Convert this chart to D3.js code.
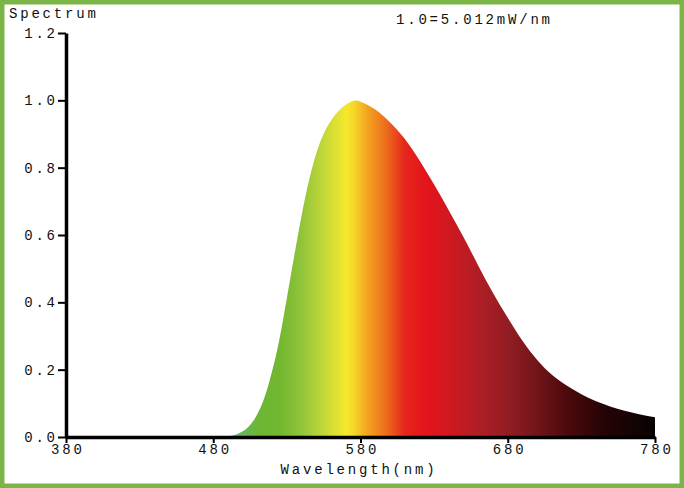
<!DOCTYPE html>
<html>
<head>
<meta charset="utf-8">
<script src="https://cdn.jsdelivr.net/npm/d3@7"></script>
<style>
  html, body { margin: 0; padding: 0; background: #fff; }
  svg text { font-family: "Liberation Mono", "DejaVu Sans Mono", monospace; font-size: 14px; fill: #111; }
</style>
</head>
<body>
<div id="chart"></div>
<script>
// relative spectrum
var wavelengths = [380, 400, 420, 440, 460, 480, 485, 490, 495, 500, 505, 510, 515, 520, 525,
                   530, 535, 540, 545, 550, 555, 560, 565, 570, 575, 580, 590,
                   600, 610, 620, 630, 640, 650, 660, 670, 680, 690, 700,
                   710, 720, 730, 740, 750, 760, 770, 780];
var intensity = [0, 0, 0, 0, 0, 0, 0, 0.002, 0.007, 0.017, 0.036, 0.068, 0.12, 0.196, 0.292,
                 0.413, 0.538, 0.658, 0.762, 0.843, 0.901, 0.94, 0.968, 0.987, 0.998, 0.996, 0.973,
                 0.935, 0.886, 0.822, 0.75, 0.673, 0.593, 0.509, 0.428, 0.354, 0.286, 0.229,
                 0.185, 0.153, 0.127, 0.106, 0.09, 0.077, 0.067, 0.059];

// colour of the fill along the wavelength axis
var stopWavelengths = [488, 500, 510, 525, 540, 555, 570, 575, 585, 598, 610, 625, 640, 660, 680, 700, 720, 745, 780];
var stopColors = ["#6ab9a6", "#69b85a", "#6cb634", "#72b72f", "#90c43a", "#c3d838", "#f4e82c", "#f5d92a",
                  "#f3a21f", "#ec6a1d", "#e5261c", "#e3141b", "#d0181f", "#b01e25", "#921d23", "#711519",
                  "#4e0a0c", "#250405", "#080203"];

var xTicks = [380, 480, 580, 680, 780];
var yTicks = [0, 0.2, 0.4, 0.6, 0.8, 1.0, 1.2];

var width = 684, height = 488;
var plot = { left: 66, right: 655, top: 33, bottom: 437 };

var svg = d3.select("#chart").append("svg")
    .attr("width", width)
    .attr("height", height);

svg.append("rect")
    .attr("width", width).attr("height", height)
    .attr("fill", "#fff");

var x = d3.scaleLinear().domain([380, 780]).range([plot.left, plot.right]);
var y = d3.scaleLinear().domain([0, 1.2]).range([plot.bottom, plot.top]);

var grad = svg.append("defs").append("linearGradient")
    .attr("id", "spec")
    .attr("gradientUnits", "userSpaceOnUse")
    .attr("x1", x(380)).attr("x2", x(780))
    .attr("y1", 0).attr("y2", 0);

grad.selectAll("stop")
    .data(stopWavelengths)
    .enter().append("stop")
    .attr("offset", function(d) { return (d - 380) / 400; })
    .attr("stop-color", function(d, i) { return stopColors[i]; });

var data = wavelengths.map(function(w, i) { return { w: w, v: intensity[i] }; });

var area = d3.area()
    .x(function(d) { return x(d.w); })
    .y0(y(0))
    .y1(function(d) { return y(Math.max(0, d.v)); })
    .curve(d3.curveNatural);

svg.append("path")
    .datum(data)
    .attr("d", area)
    .attr("fill", "url(#spec)");

// axes
var yAxis = svg.append("g")
    .attr("transform", "translate(" + plot.left + ",0)")
    .call(d3.axisLeft(y).tickValues(yTicks).tickSize(8).tickSizeOuter(0).tickPadding(3)
        .tickFormat(d3.format(".1f")));

var xAxis = svg.append("g")
    .attr("transform", "translate(0," + plot.bottom + ")")
    .call(d3.axisBottom(x).tickValues(xTicks).tickSize(6).tickSizeOuter(0).tickPadding(3));

svg.selectAll(".domain").attr("stroke", "#000").attr("stroke-width", 3.5);
svg.selectAll(".tick line").attr("stroke", "#000").attr("stroke-width", 2);
svg.selectAll(".tick text")
    .style("font-family", "'Liberation Mono', 'DejaVu Sans Mono', monospace")
    .style("font-size", "14px")
    .style("letter-spacing", "2.8px")
    .attr("fill", "#111");
yAxis.selectAll(".tick text").attr("dx", "0.2em");
xAxis.selectAll(".tick text").attr("dx", "0.1em").attr("dy", "0.55em");

svg.append("text")
    .attr("x", 9).attr("y", 18)
    .style("letter-spacing", "2.8px")
    .text("Spectrum");

svg.append("text")
    .attr("x", 396).attr("y", 24)
    .style("letter-spacing", "2.8px")
    .text("1.0=5.012mW/nm");

svg.append("text")
    .attr("x", 359).attr("y", 474)
    .attr("text-anchor", "middle")
    .style("letter-spacing", "2.8px")
    .text("Wavelength(nm)");

// green frame
svg.append("rect")
    .attr("x", 2.25).attr("y", 2.25)
    .attr("width", width - 4.5).attr("height", height - 4.5)
    .attr("fill", "none")
    .attr("stroke", "#7bb547")
    .attr("stroke-width", 4.5);
</script>
</body>
</html>
